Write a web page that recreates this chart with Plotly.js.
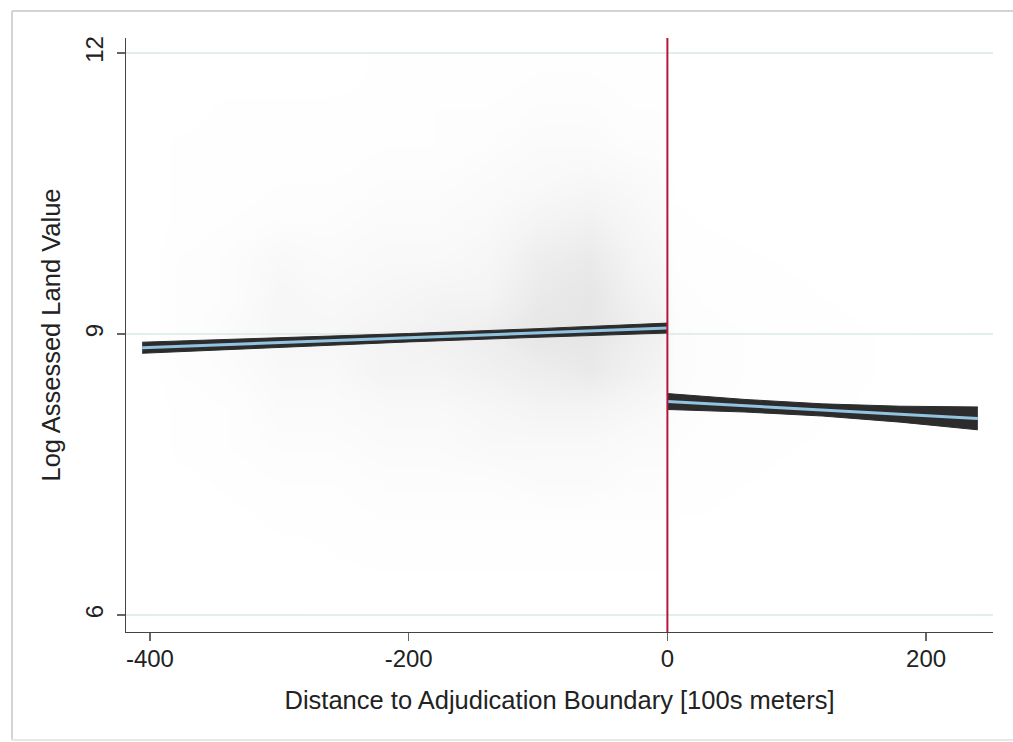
<!DOCTYPE html>
<html>
<head>
<meta charset="utf-8">
<script src="https://cdn.plot.ly/plotly-3.0.1.min.js"></script>
<style>html,body{margin:0;padding:0;background:#fff;}#chart{width:1013px;height:742px;}</style>
</head>
<body>
<div id="chart"></div>
<script>
// ---- Data ----
// Scatter cloud summarised as an eye-estimated point density grid (0-10)
var densX = [-410, -380, -340, -300, -260, -220, -180, -140, -100, -60, -25, -5, 5, 30, 70, 110, 150, 190, 230, 250];
var densY = [6.2, 6.6, 7.0, 7.4, 7.8, 8.2, 8.6, 9.0, 9.4, 9.8, 10.2, 10.6, 11.0, 11.4, 11.8];
var densZ = [
  [0,0.2,0.3,0.3,0.5,0.5,0.5,0.5,0.5,0.5,0.5,0.5, 0.4,0.3,0.3,0.2,0.2,0.2,0.1,0],
  [0,0.3,0.5,0.5,0.8,1,1,1,1,1,1,1, 0.6,0.6,0.5,0.4,0.3,0.3,0.2,0],
  [0,0.5,0.5,1,1,1.5,1.5,1.5,1.5,1.5,1.5,1.5, 0.8,0.8,0.6,0.5,0.4,0.3,0.2,0],
  [0,0.5,1,1.5,1.5,2,2,2,2.5,2.5,2,2, 1.2,1,0.8,0.6,0.5,0.4,0.3,0],
  [0,1,1.5,2,2,2.5,2.5,3,3,3,2.5,2.5, 1.5,1.2,1,0.8,0.6,0.5,0.3,0],
  [0,1,1.5,2.5,2.5,3,3,3.5,4,4,3.5,3, 2,1.6,1.2,1,0.8,0.6,0.4,0],
  [0,1.5,2,3,3,4,4,4.5,5,5.5,4.5,4, 2.2,1.8,1.4,1.1,0.9,0.7,0.4,0],
  [0,1.5,2.5,3.5,3.5,4,4.5,5,6,6,5,4.5, 2.2,1.8,1.4,1.1,0.9,0.7,0.4,0],
  [0,1.5,2,3.5,3,3.5,4,4,5.5,6,4.5,4, 1.8,1.4,1.1,0.9,0.7,0.5,0.3,0],
  [0,1.5,2,3,2.5,3,3,3.5,5,5.5,4,3.5, 1.4,1.1,0.9,0.7,0.5,0.4,0.2,0],
  [0,1,1.5,2,2,2.5,2.5,3,4,4.5,3.5,3, 1,0.8,0.6,0.5,0.4,0.3,0.2,0],
  [0,1,1,1.5,1.5,2,2,2.5,3,3.5,3,2.5, 0.7,0.6,0.5,0.4,0.3,0.2,0.1,0],
  [0,1,1,1,1,1.5,1.5,2,2.5,2.5,2,2, 0.6,0.5,0.4,0.3,0.2,0.2,0.1,0],
  [0,0.5,1,1,1,1,1.5,1.5,2,2,1.5,1.5, 0.4,0.4,0.3,0.2,0.2,0.1,0.1,0],
  [0,0.5,0.5,0.5,0.5,1,1,1,1.5,1.5,1,1, 0.3,0.3,0.2,0.2,0.1,0.1,0,0]
];

// Linear fit and confidence interval, left of boundary
var leftX   = [-406, -300, -200, -100, 0];
var leftFit = [8.854, 8.909, 8.961, 9.012, 9.064];
var leftLo  = [8.795, 8.861, 8.916, 8.966, 9.011];
var leftHi  = [8.913, 8.957, 9.006, 9.058, 9.117];

// Linear fit and confidence interval, right of boundary
var rightX   = [0, 60, 120, 180, 240];
var rightFit = [8.280, 8.235, 8.190, 8.145, 8.100];
var rightLo  = [8.195, 8.168, 8.125, 8.060, 7.978];
var rightHi  = [8.365, 8.302, 8.255, 8.230, 8.222];

var cutoff = [0];
var xTicks = [-400, -200, 0, 200];
var yTicks = [6, 9, 12];

// ---- Styles ----
var bandColor = 'rgb(44,44,44)';
var fitColor = 'rgb(146,196,226)';
var font = 'Arial, "Liberation Sans", sans-serif';

function band(x, lo, hi) {
  return [
    {x: x, y: lo, type: 'scatter', mode: 'lines', line: {color: bandColor, width: 1}, hoverinfo: 'skip', showlegend: false},
    {x: x, y: hi, type: 'scatter', mode: 'lines', fill: 'tonexty', fillcolor: bandColor, line: {color: bandColor, width: 1}, hoverinfo: 'skip', showlegend: false}
  ];
}

var traces = [
  {
    type: 'heatmap', x: densX, y: densY, z: densZ, zmin: 0, zmax: 10, zsmooth: 'best',
    colorscale: [[0, 'rgba(255,255,255,0)'], [1, 'rgb(185,185,185)']],
    showscale: false, hoverinfo: 'skip'
  }
].concat(band(leftX, leftLo, leftHi))
 .concat([{x: leftX, y: leftFit, type: 'scatter', mode: 'lines', line: {color: fitColor, width: 3}, showlegend: false}])
 .concat(band(rightX, rightLo, rightHi))
 .concat([{x: rightX, y: rightFit, type: 'scatter', mode: 'lines', line: {color: fitColor, width: 3}, showlegend: false}]);

var frameColor = 'rgb(212,212,212)';
var layout = {
  width: 1013, height: 742,
  margin: {l: 126, r: 20, t: 38, b: 110},
  paper_bgcolor: '#fff', plot_bgcolor: '#fff',
  font: {family: font, color: '#222'},
  showlegend: false,
  xaxis: {
    range: [-418.5, 251.7], tickvals: xTicks, ticktext: xTicks.map(String),
    showgrid: false, zeroline: false,
    showline: true, linecolor: '#444', linewidth: 1.3,
    ticks: 'outside', ticklen: 8, tickcolor: '#666', tickwidth: 1.3,
    tickfont: {size: 24, family: font, color: '#222'},
    ticklabelstandoff: -3,
    title: {text: 'Distance to Adjudication Boundary [100s meters]', font: {size: 25.5, family: font, color: '#222'}, standoff: 20}
  },
  yaxis: {
    range: [5.82, 12.16], tickvals: yTicks, ticktext: yTicks.map(String),
    showgrid: true, gridcolor: 'rgb(226,238,238)', gridwidth: 1.3, zeroline: false,
    showline: true, linecolor: '#444', linewidth: 1.3,
    ticks: 'outside', ticklen: 8, tickcolor: '#666', tickwidth: 1.3,
    tickangle: -90,
    tickfont: {size: 24, family: font, color: '#222'},
    ticklabelstandoff: 4,
    title: {text: 'Log Assessed Land Value', font: {size: 25.5, family: font, color: '#222'}, standoff: 13}
  },
  shapes: [
    {type: 'line', xref: 'x', yref: 'paper', x0: cutoff[0], x1: cutoff[0], y0: 0, y1: 1, line: {color: 'rgb(178,24,62)', width: 2}},
    {type: 'line', xref: 'paper', yref: 'paper', x0: -0.1315, x1: 1.05, y0: 1.0455, y1: 1.0455, line: {color: frameColor, width: 2}},
    {type: 'line', xref: 'paper', yref: 'paper', x0: -0.1315, x1: -0.1315, y0: 1.0455, y1: -0.182, line: {color: frameColor, width: 2}},
    {type: 'line', xref: 'paper', yref: 'paper', x0: -0.1315, x1: 1.05, y0: -0.182, y1: -0.182, line: {color: 'rgb(232,232,232)', width: 2}}
  ]
};

Plotly.newPlot('chart', traces, layout, {displayModeBar: false, staticPlot: true});
</script>
</body>
</html>
